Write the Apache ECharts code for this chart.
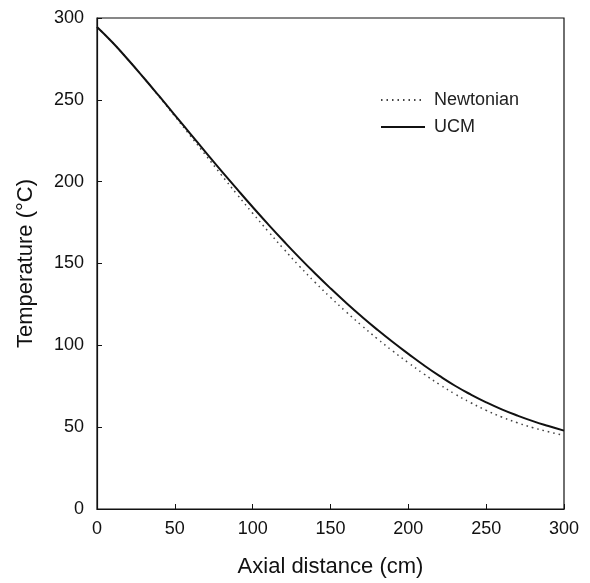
<!DOCTYPE html>
<html>
<head>
<meta charset="utf-8">
<script src="https://cdn.jsdelivr.net/npm/echarts@6/dist/echarts.min.js"></script>
<style>
  html, body { margin: 0; padding: 0; background: #fff; }
  #chart { width: 590px; height: 583px; }
</style>
</head>
<body>
<div id="chart"></div>
<script>
// axial distance (cm)
var distance = [0, 10, 20, 30, 40, 50, 60, 70, 80, 90, 100, 110, 120, 130, 140, 150,
	160, 170, 180, 190, 200, 210, 220, 230, 240, 250, 260, 270, 280, 290, 300];
// temperature (oC)
var ucm = [294.5, 285, 274.5, 263.5, 252.2, 240.7, 229.2, 217.8, 206.5, 195.4, 184.5, 173.9, 163.6, 153.6, 144, 134.8,
	126, 117.6, 109.6, 102, 94.8, 87.8, 81.3, 75.3, 70, 65.2, 60.9, 57.1, 53.7, 50.7, 47.9];
var newtonian = [294.5, 285, 274.5, 263.5, 251.9, 240, 228, 216, 204, 192.2, 180.7, 169.6, 158.8, 148.4, 138.6, 129.3,
	120.5, 112.1, 104.1, 96.5, 89.4, 82.5, 76.1, 70.2, 65, 60.3, 56.2, 52.7, 49.7, 47.2, 44.9];
var xTicks = [0, 50, 100, 150, 200, 250, 300];
var yTicks = [0, 50, 100, 150, 200, 250, 300];

var font = "Liberation Sans";

function pairs(ys) {
	return distance.map(function (x, i) { return [x, ys[i]]; });
}

var chart = echarts.init(document.getElementById("chart"));

chart.setOption({
	animation: false,
	grid: {
		left: 97, right: 26, top: 18, bottom: 71,
		show: true, borderColor: "#111", borderWidth: 1.2, backgroundColor: "#fff"
	},
	legend: {
		orient: "vertical",
		left: 380, top: 91, padding: 0,
		itemWidth: 44, itemHeight: 14, itemGap: 9,
		itemStyle: { opacity: 0 },
		textStyle: { fontFamily: font, fontSize: 18, color: "#222", padding: [0, 0, 0, 4] },
		data: ["Newtonian", "UCM"]
	},
	xAxis: {
		type: "value",
		min: xTicks[0], max: xTicks[xTicks.length - 1], interval: 50,
		name: "Axial distance (cm)",
		nameLocation: "middle", nameGap: 47,
		nameTextStyle: { fontFamily: font, fontSize: 22, color: "#111" },
		axisLine: { lineStyle: { color: "#111", width: 1.2 } },
		axisTick: { inside: true, length: 5, lineStyle: { color: "#111" } },
		axisLabel: { fontFamily: font, fontSize: 18, color: "#111", margin: 11 },
		splitLine: { show: false }
	},
	yAxis: {
		type: "value",
		min: yTicks[0], max: yTicks[yTicks.length - 1], interval: 50,
		name: "Temperature (°C)",
		nameLocation: "middle", nameGap: 60,
		nameTextStyle: { fontFamily: font, fontSize: 22, color: "#111" },
		axisLine: { lineStyle: { color: "#111", width: 1.2 } },
		axisTick: { inside: true, length: 5, lineStyle: { color: "#111" } },
		axisLabel: { fontFamily: font, fontSize: 18, color: "#111", margin: 13 },
		splitLine: { show: false }
	},
	series: [
		{
			name: "Newtonian",
			type: "line",
			smooth: true,
			symbol: "none",
			data: pairs(newtonian),
			lineStyle: { color: "#444", width: 1.5, type: [1.5, 4] },
			itemStyle: { color: "#444" }
		},
		{
			name: "UCM",
			type: "line",
			smooth: true,
			symbol: "none",
			data: pairs(ucm),
			lineStyle: { color: "#111", width: 2 },
			itemStyle: { color: "#111" }
		}
	]
});
</script>
</body>
</html>
